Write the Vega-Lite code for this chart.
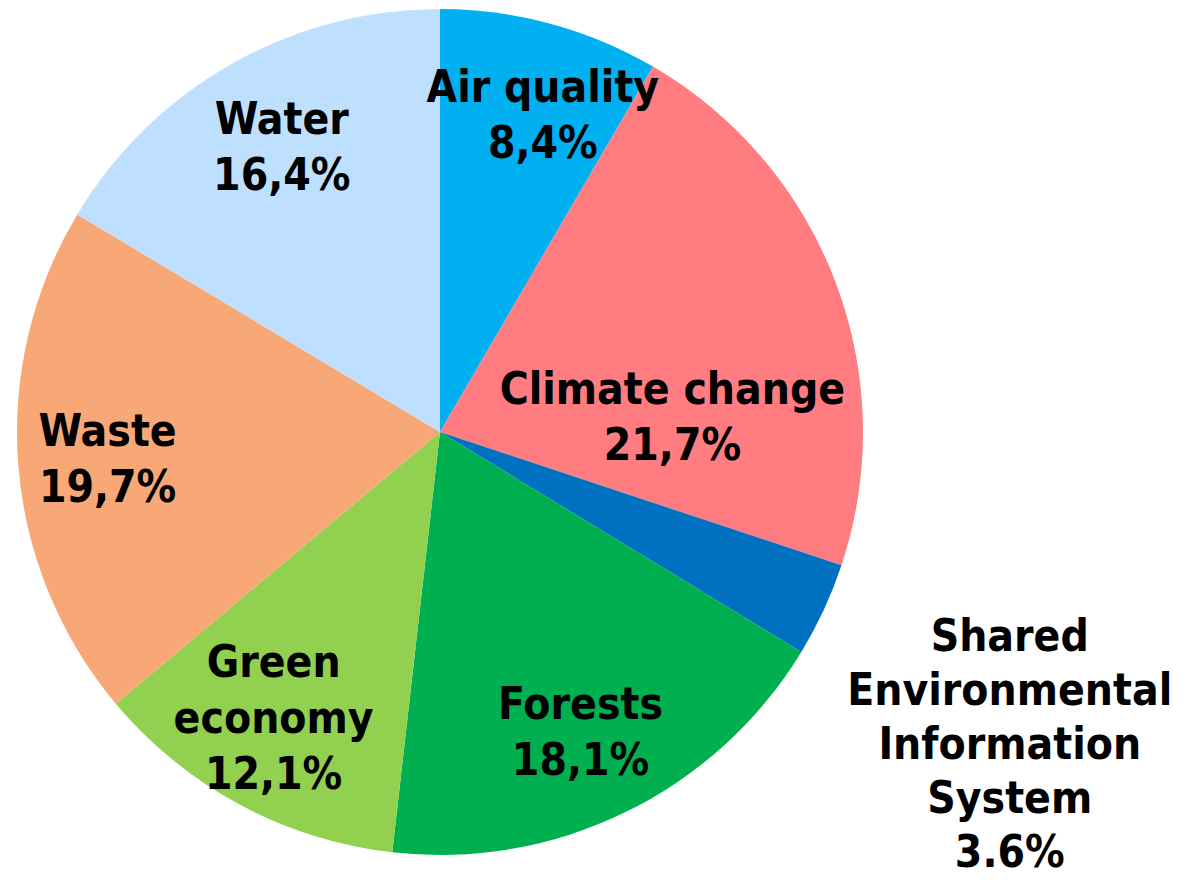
{
  "$schema": "https://vega.github.io/schema/vega-lite/v6.json",
  "width": 880,
  "height": 864,
  "autosize": {"type": "none"},
  "padding": {"left": 0, "top": 0, "right": 306, "bottom": 18},
  "background": "white",
  "config": {"view": {"stroke": null}},
  "data": {
    "values": [
      {"category": "Air quality", "value": 8.4, "order": 1, "label": "Air quality\n8,4%"},
      {"category": "Climate change", "value": 21.7, "order": 2, "label": "Climate change\n21,7%"},
      {"category": "Shared Environmental Information System", "value": 3.6, "order": 3, "label": "Shared\nEnvironmental\nInformation\nSystem\n3.6%"},
      {"category": "Forests", "value": 18.1, "order": 4, "label": "Forests\n18,1%"},
      {"category": "Green economy", "value": 12.1, "order": 5, "label": "Green\neconomy\n12,1%"},
      {"category": "Waste", "value": 19.7, "order": 6, "label": "Waste\n19,7%"},
      {"category": "Water", "value": 16.4, "order": 7, "label": "Water\n16,4%"}
    ]
  },
  "encoding": {
    "theta": {"field": "value", "type": "quantitative", "stack": true},
    "order": {"field": "order", "type": "quantitative"}
  },
  "layer": [
    {
      "mark": {"type": "arc", "outerRadius": 423, "stroke": null},
      "encoding": {
        "color": {
          "field": "category",
          "type": "nominal",
          "legend": null,
          "scale": {
            "domain": ["Air quality", "Climate change", "Shared Environmental Information System", "Forests", "Green economy", "Waste", "Water"],
            "range": ["#00B0F0", "#FF7C80", "#0070C0", "#00B050", "#92D050", "#F8A876", "#BFDFFE"]
          }
        }
      }
    },
    {
      "mark": {"type": "text", "radius": 333, "thetaOffset": 0.05, "dy": -26, "font": "DejaVu Sans Condensed", "fontWeight": "bold", "fontSize": 44, "lineBreak": "\n", "lineHeight": 56, "align": "center", "baseline": "middle", "color": "black"},
      "encoding": {
        "text": {
          "condition": {"test": "datum.category === 'Air quality'", "field": "label"},
          "value": ""
        }
      }
    },
    {
      "mark": {"type": "text", "radius": 333, "thetaOffset": 0.02, "dy": -18, "font": "DejaVu Sans Condensed", "fontWeight": "bold", "fontSize": 44, "lineBreak": "\n", "lineHeight": 56, "align": "center", "baseline": "middle", "color": "black"},
      "encoding": {
        "text": {
          "condition": {"test": "datum.category === 'Waste' || datum.category === 'Water'", "field": "label"},
          "value": ""
        }
      }
    },
    {
      "mark": {"type": "text", "radius": 333, "thetaOffset": 0.02, "dy": -28, "font": "DejaVu Sans Condensed", "fontWeight": "bold", "fontSize": 44, "lineBreak": "\n", "lineHeight": 56, "align": "center", "baseline": "middle", "color": "black"},
      "encoding": {
        "text": {
          "condition": {"test": "datum.category === 'Forests'", "field": "label"},
          "value": ""
        }
      }
    },
    {
      "mark": {"type": "text", "radius": 333, "thetaOffset": 0.03, "dy": -56, "font": "DejaVu Sans Condensed", "fontWeight": "bold", "fontSize": 44, "lineBreak": "\n", "lineHeight": 56, "align": "center", "baseline": "middle", "color": "black"},
      "encoding": {
        "text": {
          "condition": {"test": "datum.category === 'Green economy'", "field": "label"},
          "value": ""
        }
      }
    },
    {
      "mark": {"type": "text", "radius": 233, "thetaOffset": 0.29, "dy": -24, "font": "DejaVu Sans Condensed", "fontWeight": "bold", "fontSize": 44, "lineBreak": "\n", "lineHeight": 56, "align": "center", "baseline": "middle", "color": "black"},
      "encoding": {
        "text": {
          "condition": {"test": "datum.category === 'Climate change'", "field": "label"},
          "value": ""
        }
      }
    },
    {
      "mark": {"type": "text", "radius": 653, "thetaOffset": 0.077, "dy": -113, "font": "DejaVu Sans Condensed", "fontWeight": "bold", "fontSize": 44, "lineBreak": "\n", "lineHeight": 54, "align": "center", "baseline": "middle", "color": "black"},
      "encoding": {
        "text": {
          "condition": {"test": "datum.category === 'Shared Environmental Information System'", "field": "label"},
          "value": ""
        }
      }
    }
  ]
}
